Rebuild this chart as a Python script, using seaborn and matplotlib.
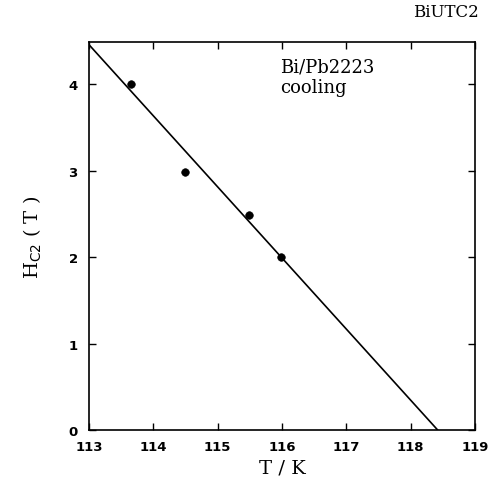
import matplotlib
matplotlib.use("Agg")
import matplotlib.pyplot as plt
import seaborn as sns
import pandas as pd

# data
temp_k = [113.66, 114.49, 115.49, 115.99]
hc2_t = [4.0, 2.99, 2.49, 2.0]
fit_t = [113.0, 118.42]
fit_h = [4.46, 0.0]
x_ticks = [113, 114, 115, 116, 117, 118, 119]
y_ticks = [0, 1, 2, 3, 4]

sns.set_theme(style="ticks")
plt.rcParams['font.family'] = ['DejaVu Sans']
plt.rcParams['text.color'] = 'black'
plt.rcParams['axes.labelcolor'] = 'black'

fig = plt.figure(figsize=(4.94, 4.89), dpi=100)
ax = fig.add_axes([0.180, 0.1186, 0.7815, 0.7934])

pts = pd.DataFrame({"T": temp_k, "H": hc2_t})
fit = pd.DataFrame({"T": fit_t, "H": fit_h})
sns.lineplot(data=fit, x="T", y="H", ax=ax, color="black", linewidth=1.2)
sns.scatterplot(data=pts, x="T", y="H", ax=ax, color="black", s=30, marker="o",
                edgecolor="black", zorder=3)

ax.set_xlim(113, 119)
ax.set_ylim(0, 4.49)
ax.set_xticks(x_ticks)
ax.set_yticks(y_ticks)
ax.set_xticklabels([str(t) for t in x_ticks], fontsize=9.5, fontweight="bold")
ax.set_yticklabels([str(t) for t in y_ticks], fontsize=9.5, fontweight="bold")
ax.tick_params(direction="in", top=True, right=True, length=5, width=1, colors="black")
ax.tick_params(axis="x", pad=7)
ax.tick_params(axis="y", pad=8)
for s in ax.spines.values():
    s.set_linewidth(1.2)
    s.set_color("black")

ax.set_xlabel("T / K", fontsize=14, family="DejaVu Serif", color="black", labelpad=4)
ax.set_ylabel(r"H$_{\rm C2}$ ( T )", fontsize=14, family="DejaVu Serif", color="black", labelpad=18)

ax.text(0.495, 0.96, "Bi/Pb2223\ncooling", transform=ax.transAxes, fontsize=13,
        family="DejaVu Serif", va="top", ha="left", linespacing=1.2, color="black")
fig.text(0.97, 0.975, "BiUTC2", fontsize=12, family="DejaVu Serif", ha="right", va="center",
         color="black")

fig.savefig("out.png", dpi=100, facecolor="white")
